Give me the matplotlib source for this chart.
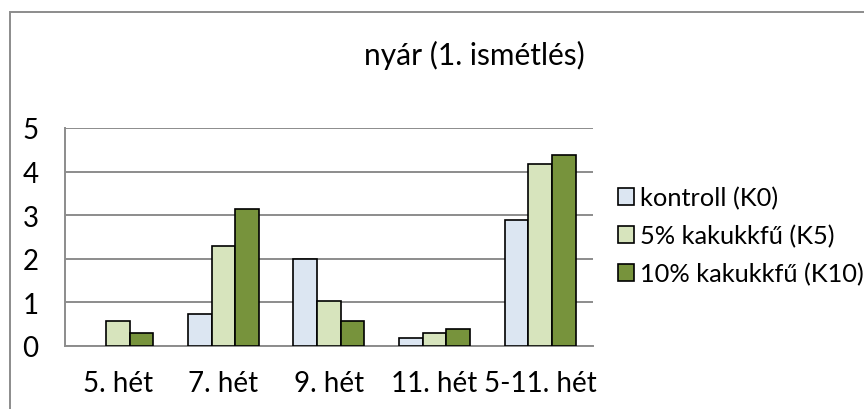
import matplotlib.pyplot as plt
import matplotlib.patches as mpatches
import numpy as np

plt.rcParams['font.family'] = ['Lato', 'DejaVu Sans']

# Data
weeks = ['5. hét', '7. hét', '9. hét', '11. hét', '5-11. hét']
k0 = [0, 0.73, 1.99, 0.18, 2.90]
k5 = [0.57, 2.29, 1.03, 0.29, 4.18]
k10 = [0.29, 3.14, 0.57, 0.40, 4.39]
series = ['kontroll (K0)', '5% kakukkfű (K5)', '10% kakukkfű (K10)']
colors = ['#dce6f2', '#d7e4bd', '#77933c']

fig = plt.figure(figsize=(8.64, 4.10), dpi=100)
ax = fig.add_axes([0.0752, 0.1537, 0.6111, 0.5317])

x = np.arange(len(weeks))
w = 0.224
for i, (vals, lab, col) in enumerate(zip([k0, k5, k10], series, colors)):
    bars = ax.bar(x + (i - 1) * w, vals, w, color=col, edgecolor='black',
                  linewidth=1.2, label=lab, zorder=3)
    for b in bars:
        if b.get_height() == 0:
            b.set_linewidth(0)

ax.set_xlim(-0.5, len(weeks) - 0.5)
ax.set_ylim(0, 5)
ax.set_yticks(range(6))
ax.set_xticks(x)
ax.set_xticklabels(weeks)
ax.yaxis.grid(True, color='#8c8c8c', linewidth=1.4, zorder=0)
ax.tick_params(axis='both', length=0, labelsize=20)
ax.tick_params(axis='y', pad=19)
ax.tick_params(axis='x', pad=17)
for s in ['top', 'right']:
    ax.spines[s].set_visible(False)
for s in ['left', 'bottom']:
    ax.spines[s].set_color('#8c8c8c')
    ax.spines[s].set_linewidth(1.4)

fig.text(474 / 864, 1 - 55 / 410, 'nyár (1. ismétlés)', ha='center',
         va='center', fontsize=21.5)

handles = [mpatches.Patch(facecolor=c, edgecolor='black', linewidth=1.2)
           for c in colors]
fig.legend(handles, series, loc='upper left', bbox_to_anchor=(0.703, 0.569),
           frameon=False, fontsize=18.3, handlelength=0.65, handleheight=0.65,
           handletextpad=0.25, labelspacing=0.58, borderaxespad=0)

# chart border
fig.patches.append(mpatches.Rectangle((10 / 864, -0.1), 1.2, 1 - 13 / 410 + 0.1,
                                      transform=fig.transFigure, fill=False,
                                      edgecolor='#8c8c8c', linewidth=1.4))

fig.savefig('out.png', dpi=100)
